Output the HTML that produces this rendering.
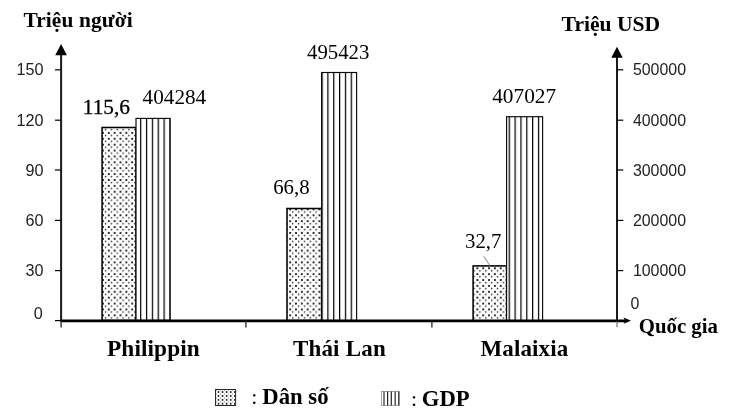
<!DOCTYPE html>
<html><head><meta charset="utf-8">
<style>
html,body{margin:0;padding:0;background:#fff;}
body{width:735px;height:420px;overflow:hidden;}
svg{display:block;will-change:transform;transform:translateZ(0);}
.sb{font-family:"Liberation Serif",serif;font-weight:bold;fill:#000;}
.sr{font-family:"Liberation Serif",serif;fill:#000;}
.ss{font-family:"Liberation Sans",sans-serif;fill:#222;}
</style></head><body>
<svg width="735" height="420" viewBox="0 0 735 420">
<defs>
<pattern id="dots" patternUnits="userSpaceOnUse" x="3.5" y="3.43" width="5.85" height="5.885">
<rect width="5.85" height="5.885" fill="#fff"/>
<circle cx="0" cy="0" r="1.05" fill="#000"/><circle cx="5.85" cy="0" r="1.05" fill="#000"/>
<circle cx="0" cy="5.885" r="1.05" fill="#000"/><circle cx="5.85" cy="5.885" r="1.05" fill="#000"/>
<circle cx="2.6" cy="2.6" r="0.78" fill="#222"/>
</pattern>
<pattern id="vl" patternUnits="userSpaceOnUse" x="-0.3" y="0" width="5.85" height="10">
<rect width="5.85" height="10" fill="#fff"/>
<rect x="0" y="0" width="1.22" height="10" fill="#000"/>
</pattern>
<pattern id="dots2" patternUnits="userSpaceOnUse" x="218.47" y="392.05" width="4.07" height="3.9">
<rect width="4.07" height="3.9" fill="#fff"/>
<circle cx="0" cy="0" r="0.92" fill="#000"/><circle cx="4.07" cy="0" r="0.92" fill="#000"/>
<circle cx="0" cy="3.9" r="0.92" fill="#000"/><circle cx="4.07" cy="3.9" r="0.92" fill="#000"/>
<circle cx="2.035" cy="1.95" r="0.55" fill="#555"/>
</pattern>
</defs>
<rect width="735" height="420" fill="#fff"/>

<!-- titles -->
<text class="sb" x="23.4" y="26.6" font-size="21.4" letter-spacing="0.12">Triệu người</text>
<text class="sb" x="561.6" y="30.6" font-size="21.6">Triệu USD</text>
<text class="sb" x="638.8" y="333.3" font-size="20.8">Quốc gia</text>

<!-- left axis -->
<line x1="61.1" y1="50" x2="61.1" y2="321" stroke="#1a1a1a" stroke-width="2"/>
<polygon points="61.1,44 55.2,55.3 66.9,55.3" fill="#000"/>
<g stroke="#000" stroke-width="1.2">
<line x1="55" y1="69.8" x2="61" y2="69.8"/>
<line x1="55" y1="120.2" x2="61" y2="120.2"/>
<line x1="55" y1="170" x2="61" y2="170"/>
<line x1="55" y1="220.4" x2="61" y2="220.4"/>
<line x1="55" y1="270.6" x2="61" y2="270.6"/>
<line x1="55" y1="320.6" x2="61" y2="320.6"/>
</g>
<g class="ss" font-size="16.2" text-anchor="end">
<text transform="translate(43.4,75.4) scale(1,1.04)">150</text>
<text transform="translate(43.4,125.6) scale(1,1.04)">120</text>
<text transform="translate(43.4,175.6) scale(1,1.04)">90</text>
<text transform="translate(43.4,226) scale(1,1.04)">60</text>
<text transform="translate(43.4,276.2) scale(1,1.04)">30</text>
<text transform="translate(42.8,319.2) scale(1,1.04)">0</text>
</g>

<!-- right axis -->
<line x1="617" y1="52" x2="617" y2="321" stroke="#1a1a1a" stroke-width="2"/>
<polygon points="617,46.8 611.3,57.7 622.7,57.7" fill="#000"/>
<g stroke="#000" stroke-width="1.2">
<line x1="617" y1="69.8" x2="623.3" y2="69.8"/>
<line x1="617" y1="120.2" x2="623.3" y2="120.2"/>
<line x1="617" y1="170" x2="623.3" y2="170"/>
<line x1="617" y1="220.4" x2="623.3" y2="220.4"/>
<line x1="617" y1="270.6" x2="623.3" y2="270.6"/>
</g>
<g class="ss" font-size="15.95">
<text transform="translate(632.9,75.4) scale(1,1.055)">500000</text>
<text transform="translate(632.9,125.6) scale(1,1.055)">400000</text>
<text transform="translate(632.9,175.6) scale(1,1.055)">300000</text>
<text transform="translate(632.9,226) scale(1,1.055)">200000</text>
<text transform="translate(632.9,276.2) scale(1,1.055)">100000</text>
<text transform="translate(630.6,309.4) scale(1,1.055)">0</text>
</g>

<!-- bars -->
<g stroke="#000" stroke-width="1.55">
<rect x="102.1" y="127.5" width="33.9" height="193" fill="url(#dots)"/>
<rect x="287" y="208.5" width="34.6" height="112" fill="url(#dots)"/>
<rect x="473.1" y="265.9" width="33.5" height="55" fill="url(#dots)"/>
</g>
<g stroke="#0a0a0a" stroke-width="1.15">
<rect x="136" y="118.4" width="34.2" height="202" fill="url(#vl)"/>
<rect x="321.6" y="72.5" width="35" height="248" fill="url(#vl)"/>
<rect x="506.6" y="116.7" width="36" height="204" fill="url(#vl)"/>
</g>
<line x1="483.8" y1="256.3" x2="489.8" y2="265.5" stroke="#999" stroke-width="1.1"/>

<!-- x axis -->
<line x1="60.2" y1="320.85" x2="625" y2="320.85" stroke="#000" stroke-width="2.9"/>
<polygon points="631,320.7 623.6,317.6 625.2,320.7 623.6,323.8" fill="#000"/>
<g stroke="#333" stroke-width="1.4">
<line x1="61.1" y1="321" x2="61.1" y2="327.6"/>
<line x1="245.9" y1="321" x2="245.9" y2="327.6"/>
<line x1="431.9" y1="321" x2="431.9" y2="327.6"/>
<line x1="617" y1="321" x2="617" y2="327.2" stroke="#555" stroke-width="1"/>
</g>

<!-- value labels -->
<g class="sr" font-size="20.8">
<text x="82.8" y="113.6" font-size="21.3" stroke="#000" stroke-width="0.3">115,6</text>
<text x="142.6" y="104" font-size="21.2">404284</text>
<text x="273.2" y="193.7">66,8</text>
<text x="307" y="58.5">495423</text>
<text x="465" y="247.8">32,7</text>
<text x="492.2" y="102.6" font-size="21.3">407027</text>
</g>

<!-- categories -->
<g class="sb" font-size="23">
<text x="107" y="356" font-size="23.3" letter-spacing="0.1">Philippin</text>
<text x="292.9" y="356" letter-spacing="0.2">Thái Lan</text>
<text x="480.5" y="356" letter-spacing="0.12">Malaixia</text>
</g>

<!-- legend -->
<rect x="215.5" y="389.5" width="20.1" height="16" fill="url(#dots2)" stroke="#14303f" stroke-width="1"/>
<text class="sr" x="251.2" y="403.8" font-size="22">:</text>
<text class="sb" x="262.3" y="403.6" font-size="22.7">Dân số</text>
<rect x="381.4" y="391.4" width="17.6" height="14" fill="#fff" stroke="#6f8794" stroke-width="0.7"/>
<g stroke="#222" stroke-width="1.2">
<line x1="384" y1="391.4" x2="384" y2="405.4" stroke="#555" stroke-width="1.5"/>
<line x1="387.6" y1="391.4" x2="387.6" y2="405.4"/>
<line x1="391.3" y1="391.4" x2="391.3" y2="405.4"/>
<line x1="395.2" y1="391.4" x2="395.2" y2="405.4" stroke="#555" stroke-width="1.5"/>
<line x1="398.8" y1="391.4" x2="398.8" y2="405.4"/>
</g>
<text class="sr" x="411.1" y="406.4" font-size="22">:</text>
<text class="sb" x="421.8" y="405.6" font-size="22.7">GDP</text>
</svg>
</body></html>
